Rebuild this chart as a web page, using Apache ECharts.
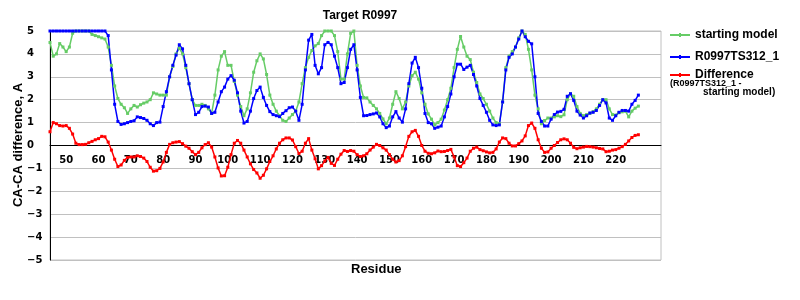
<!DOCTYPE html>
<html>
<head>
<meta charset="utf-8">
<script src="https://cdn.jsdelivr.net/npm/echarts@6/dist/echarts.min.js"></script>
<style>html,body{margin:0;padding:0;background:#fff}#c{width:800px;height:300px}</style>
</head>
<body>
<div id="c"></div>
<script>
// Residue numbers on the category axis (data covers 45..227)
const firstResidue = 45;
const lastResidue = 234;
const lastLabelledResidue = 227;
const xTickStep = 10;
const yTicks = [-5, -4, -3, -2, -1, 0, 1, 2, 3, 4, 5];

const startingModel = [
  4.5, 3.9, 4.0, 4.45, 4.3, 4.1, 4.3, 4.9, 5.0, 5.0,
  5.0, 5.0, 5.0, 4.85, 4.8, 4.75, 4.7, 4.65, 4.3, 3.5,
  2.6, 2.05, 1.8, 1.65, 1.4, 1.6, 1.75, 1.68, 1.78, 1.85,
  1.9, 2.0, 2.3, 2.25, 2.2, 2.2, 2.2, 3.0, 3.45, 4.0,
  4.25, 4.0, 3.4, 2.7, 2.0, 1.75, 1.75, 1.8, 1.75, 1.6,
  1.4, 2.2, 3.3, 3.9, 4.1, 3.5, 3.5, 2.8, 2.2, 1.7,
  1.3, 1.6, 2.3, 3.2, 3.7, 4.0, 3.78, 3.1, 2.2, 1.8,
  1.5, 1.3, 1.1, 1.05, 1.2, 1.35, 1.5, 1.9, 2.7, 3.4,
  3.85, 4.15, 4.35, 4.45, 4.8, 5.0, 5.0, 5.0, 4.8, 4.1,
  2.9, 2.9, 4.0, 4.9, 5.0, 3.5, 2.6, 2.1, 2.08, 1.9,
  1.75, 1.6, 1.4, 1.16, 0.95, 1.2, 1.8, 2.35, 2.05, 1.6,
  1.9, 2.6, 3.05, 3.2, 2.9, 2.3, 1.8, 1.38, 1.15, 0.9,
  1.0, 1.15, 1.55, 2.0, 2.5, 3.4, 4.2, 4.76, 4.3, 3.9,
  3.75, 3.2, 2.75, 2.25, 2.05, 1.8, 1.5, 1.2, 1.0, 0.95,
  1.9, 3.4, 3.9, 4.1, 4.3, 4.7, 5.0, 4.85, 4.2, 3.3,
  2.2, 1.6, 0.95, 1.09, 1.2, 1.2, 1.25, 1.3, 1.26, 1.34,
  2.0, 2.26, 2.15, 1.7, 1.4, 1.3, 1.35, 1.4, 1.48, 1.6,
  1.8, 2.0, 2.0, 1.6, 1.35, 1.33, 1.43, 1.47, 1.5, 1.25,
  1.5, 1.63, 1.72
];

const modelR0997 = [
  5.0, 5.0, 5.0, 5.0, 5.0, 5.0, 5.0, 5.0, 5.0, 5.0,
  5.0, 5.0, 5.0, 5.0, 5.0, 5.0, 5.0, 5.0, 4.8, 3.3,
  1.8, 1.05, 0.92, 0.95, 1.0, 1.05, 1.08, 1.25, 1.22, 1.18,
  1.1, 0.95, 0.87, 1.0, 1.02, 1.7, 2.35, 3.0, 3.5, 3.95,
  4.4, 4.22, 3.5, 2.7, 2.0, 1.35, 1.45, 1.7, 1.72, 1.68,
  1.4, 1.45, 1.9, 2.35, 2.55, 2.9, 3.05, 2.85, 2.3, 1.5,
  0.98, 1.05, 1.5, 2.05, 2.4, 2.55, 2.1, 1.75, 1.48, 1.35,
  1.3, 1.26, 1.4, 1.52, 1.65, 1.68, 1.5, 1.1, 1.8, 3.3,
  4.6, 4.85, 3.5, 3.13, 3.4, 4.4, 4.5, 4.4, 3.9, 3.4,
  2.7, 2.75, 3.4, 4.2, 4.4, 3.3, 2.1, 1.3, 1.31, 1.35,
  1.38, 1.42, 1.25, 0.95, 0.78, 0.85, 1.25, 1.48, 1.2, 1.02,
  1.6, 2.7, 3.6, 3.85, 3.4, 2.5, 1.4, 1.0, 0.95, 0.75,
  0.8, 0.85, 1.25, 1.7, 2.25, 3.0, 3.55, 3.55, 3.32, 3.42,
  3.5, 3.1, 2.6, 2.05, 1.75, 1.45, 1.1, 0.9, 0.87, 0.9,
  1.9, 3.3, 3.85, 4.0, 4.3, 4.65, 5.0, 4.75, 4.55, 4.44,
  3.0, 1.4, 1.05, 0.85, 0.85, 1.15, 1.35, 1.46, 1.49, 1.58,
  2.15, 2.26, 1.97, 1.5, 1.33, 1.2, 1.3, 1.42, 1.45, 1.53,
  1.75, 2.0, 1.86, 1.2, 1.1, 1.3, 1.45, 1.53, 1.53, 1.5,
  1.8, 1.97, 2.2
];

const difference = [
  0.6, 1.0, 0.95, 0.87, 0.85, 0.87, 0.75, 0.5, 0.1, 0.04,
  0.04, 0.05, 0.12, 0.18, 0.25, 0.3, 0.4, 0.38, 0.15, -0.2,
  -0.6, -0.92, -0.85, -0.65, -0.52, -0.5, -0.5, -0.45, -0.48, -0.55,
  -0.7, -0.95, -1.12, -1.1, -1.0, -0.72, -0.3, 0.05, 0.12, 0.15,
  0.17, 0.08, -0.03, -0.12, -0.27, -0.4, -0.3, -0.1, 0.04, 0.12,
  -0.07, -0.5, -0.98, -1.33, -1.32, -0.95, -0.4, 0.1, 0.22, 0.1,
  -0.2, -0.5, -0.8, -1.05, -1.2, -1.43, -1.3, -1.02, -0.7, -0.45,
  -0.15, 0.1, 0.25, 0.33, 0.33, 0.24, -0.05, -0.35, -0.25, 0.1,
  0.3, -0.2, -0.58, -1.02, -0.88, -0.68, -0.52, -0.78, -0.87, -0.6,
  -0.38, -0.22, -0.26, -0.22, -0.25, -0.4, -0.48, -0.45, -0.36, -0.2,
  -0.07, 0.05, 0.0, -0.1, -0.2, -0.4, -0.6, -0.72, -0.66, -0.45,
  -0.05, 0.4, 0.6, 0.66, 0.4, 0.0, -0.25, -0.34, -0.36, -0.32,
  -0.24, -0.27, -0.26, -0.22, -0.17, -0.5, -0.88, -0.92, -0.75, -0.55,
  -0.25, -0.12, -0.07, -0.18, -0.23, -0.28, -0.32, -0.3, -0.15, 0.15,
  0.33, 0.3, 0.1, -0.02, -0.02, 0.08, 0.2, 0.42, 0.87, 0.98,
  0.75, 0.25, -0.12, -0.3, -0.28, -0.12, 0.0, 0.13, 0.25, 0.29,
  0.25, 0.1, -0.08, -0.14, -0.1, -0.07, -0.04, -0.05, -0.07, -0.1,
  -0.13, -0.15, -0.27, -0.25, -0.2, -0.18, -0.12, -0.05, 0.05, 0.2,
  0.35, 0.44, 0.47
];

const residues = [];
for (let r = firstResidue; r <= lastResidue; r++) residues.push(String(r));

const chart = echarts.init(document.getElementById('c'), null, {renderer: 'canvas'});
const boldFamily = 'Liberation Sans, Arial, sans-serif';
const bold = {fontFamily: boldFamily, fontWeight: 'bold', color: '#000'};
const tickFont = {fontFamily: 'DejaVu Sans, Verdana, sans-serif', fontWeight: 'bold', fontSize: 10, color: '#000'};
const legendIcon = 'path://M0,2L20,2L20,4L0,4Z M9,1L11,1L11,5L9,5Z';

function lineSeries(name, data, color) {
  return {
    name, type: 'line', data,
    symbol: 'rect', symbolSize: 3, showAllSymbol: true,
    lineStyle: {color, width: 1.5}, itemStyle: {color},
    clip: false, animation: false
  };
}

const showLabel = (i, v) => (+v) % xTickStep === 0 && (+v) <= lastLabelledResidue;

chart.setOption({
  animation: false,
  title: {
    text: 'Target R0997', left: 355, top: 5, textAlign: 'center',
    textStyle: Object.assign({fontSize: 12}, bold)
  },
  grid: {left: 50, right: 139, top: 31, bottom: 40, show: true, borderColor: '#c0c0c0', borderWidth: 1},
  legend: [
    {data: ['starting model'], left: 670, top: 29},
    {data: ['R0997TS312_1'], left: 670, top: 51},
    {data: ['Difference'], left: 670, top: 69}
  ].map(l => Object.assign(l, {
    orient: 'vertical', icon: legendIcon, itemWidth: 20, itemHeight: 6, itemGap: 7, padding: 0,
    textStyle: Object.assign({fontSize: 12}, bold)
  })),
  xAxis: {
    type: 'category', data: residues, boundaryGap: false,
    axisLine: {onZero: true, lineStyle: {color: '#000', width: 1}},
    axisTick: {show: false},
    axisLabel: Object.assign({interval: showLabel, margin: -105}, tickFont),
    splitLine: {show: false}
  },
  yAxis: {
    type: 'value', min: yTicks[0], max: yTicks[yTicks.length - 1], interval: 1,
    axisLine: {show: true, lineStyle: {color: '#000', width: 1}},
    axisTick: {show: false},
    axisLabel: Object.assign({margin: 23, align: 'left', formatter: v => v < 0 ? '\u2212' + Math.abs(v) : String(v)}, tickFont),
    splitLine: {show: true, lineStyle: {color: '#c0c0c0', width: 1}}
  },
  graphic: [
    {type: 'text', x: 18, y: 145, rotation: Math.PI / 2, style: {text: 'CA-CA difference, A', fontSize: 13, fontWeight: 'bold', fontFamily: boldFamily, fill: '#000', align: 'center', verticalAlign: 'middle'}},
    {type: 'text', left: 351, top: 263, style: {text: 'Residue', fontSize: 13, fontWeight: 'bold', fontFamily: boldFamily, fill: '#000'}},
    {type: 'text', left: 670, top: 79, style: {text: '(R0997TS312_1 -', fontSize: 9, fontWeight: 'bold', fontFamily: boldFamily, fill: '#000'}},
    {type: 'text', left: 703, top: 87, style: {text: 'starting model)', fontSize: 10, fontWeight: 'bold', fontFamily: boldFamily, fill: '#000'}}
  ],
  series: [
    lineSeries('starting model', startingModel, '#66cc66'),
    lineSeries('R0997TS312_1', modelR0997, '#0000ff'),
    lineSeries('Difference', difference, '#ff0000')
  ]
});
</script>
</body>
</html>
